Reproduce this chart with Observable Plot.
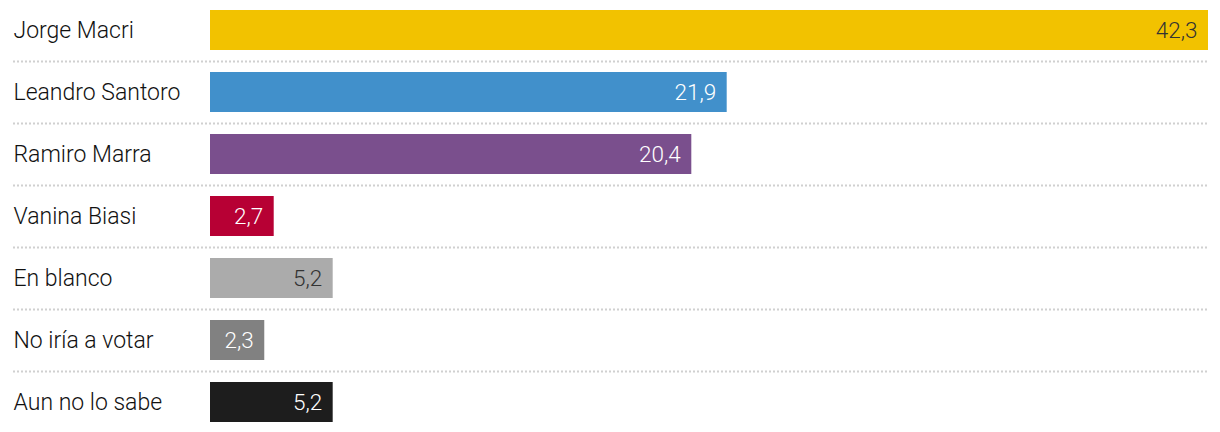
<!DOCTYPE html>
<html>
<head>
<meta charset="utf-8">
<script src="https://cdn.jsdelivr.net/npm/d3@7"></script>
<script src="https://cdn.jsdelivr.net/npm/@observablehq/plot@0.6"></script>
<style>
  html, body { margin: 0; padding: 0; background: #fff; }
</style>
</head>
<body>
<div id="chart"></div>
<script>
const categories = ["Jorge Macri", "Leandro Santoro", "Ramiro Marra", "Vanina Biasi", "En blanco", "No iría a votar", "Aun no lo sabe"];
const values = [42.3, 21.9, 20.4, 2.7, 5.2, 2.3, 5.2];
const valueLabels = ["42,3", "21,9", "20,4", "2,7", "5,2", "2,3", "5,2"];
const colors = ["#f2c200", "#4190cb", "#7a4f8d", "#b70034", "#ababab", "#818181", "#1d1d1d"];
const labelColors = ["#333333", "#ffffff", "#ffffff", "#ffffff", "#333333", "#ffffff", "#ffffff"];

const data = categories.map((c, i) => ({
  name: c, value: values[i], label: valueLabels[i], color: colors[i], labelColor: labelColors[i]
}));

const chart = Plot.plot({
  width: 1220,
  height: 432,
  marginLeft: 13,
  marginRight: 12,
  marginTop: 0,
  marginBottom: 0,
  x: {domain: [0, 42.3], range: [210, 1208], axis: null},
  y: {domain: categories, range: [-1, 433], padding: 0, axis: null},
  style: {fontFamily: "Roboto, sans-serif"},
  marks: [
    Plot.ruleY(data.slice(0, -1), {y: "name", dy: 31, stroke: "#d0d0d0", strokeWidth: 2, strokeDasharray: "2,2"}),
    Plot.barX(data, {y: "name", x: "value", fill: "color", insetTop: 11, insetBottom: 11}),
    Plot.text(data, {y: "name", text: "name", frameAnchor: "left", textAnchor: "start", fontSize: 23, fontWeight: 300, letterSpacing: "0.8px", dy: 0.5, fill: "#111111"}),
    Plot.text(data, {y: "name", x: "value", text: "label", textAnchor: "end", dx: -11, dy: 0.5, fontSize: 22.5, fontWeight: 300, fill: "labelColor"})
  ]
});
document.getElementById("chart").append(chart);
</script>
</body>
</html>
